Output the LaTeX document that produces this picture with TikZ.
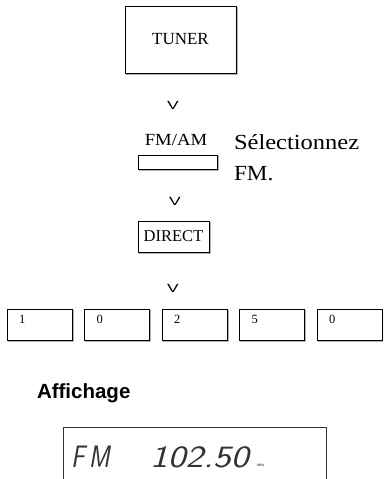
\documentclass[tikz,border=0pt]{standalone}
\usepackage{fontspec}
\setmainfont{Liberation Serif}
\newfontfamily\labelsans{Liberation Sans}
\usetikzlibrary{positioning}

\begin{document}
\begin{tikzpicture}[x=1pt, y=-1pt,
    every node/.style = {inner sep=0pt, outer sep=0pt},
    keybox/.style = {
        rectangle, draw=black, line width=0.8pt, fill=white,
        preaction={draw=gray!60, line width=1.2pt,
                   transform canvas={shift={(1.2pt,-1.2pt)}}}
    },
    keylabel/.style   = {font=\fontsize{17}{18}\selectfont},
    digitbox/.style   = {keybox, minimum width=65pt, minimum height=31pt},
    digitlabel/.style = {anchor=north west, font=\fontsize{12.5}{13}\selectfont},
    nextstep/.style   = {font=\labelsans\fontsize{14}{14}\selectfont},
    lcdtext/.style    = {anchor=base west, text=black!80,
                         font=\sffamily\itshape\fontsize{31}{31}\selectfont},
]
\clip (0,0) rectangle (383,479);

% --- Touches (colonne centrale) ---
\node[keybox, keylabel, minimum width=111pt, minimum height=67pt]
    (tuner) at (180.5,39.5) {TUNER};
\node[nextstep, anchor=base] (v1) at (173,109) {\scalebox{1.25}[0.85]{V}};
\node[keylabel, anchor=base] (fmamlbl) at (176,145) {\scalebox{1.1}[1]{FM/AM}};
\node[keybox, minimum width=79pt, minimum height=14pt]
    (fmam) at (177.5,162) {};
\node[anchor=base west, font=\fontsize{21.5}{31}\selectfont]
    (choose) at (234,149) {\scalebox{1.14}[1]{Sélectionnez}};
\node[anchor=base west, font=\fontsize{21.5}{31}\selectfont]
    (choosefm) at (234,180) {\scalebox{1.08}[1]{FM.}};
\node[nextstep, anchor=base] (v2) at (175,205) {\scalebox{1.25}[0.85]{V}};
\node[keybox, minimum width=71pt, minimum height=31pt,
      font=\fontsize{16.5}{18}\selectfont]
    (direct) at (173.5,236.5) {DIRECT};
\node[nextstep, anchor=base] (v3) at (173,292) {\scalebox{1.25}[0.85]{V}};

% --- Touches numeriques ---
\foreach \d [count=\i] in {1,0,2,5,0} {
    \node[digitbox] (k\i) at ({39.5+77.5*(\i-1)},324.5) {};
    \node[digitlabel] (d\i) at ([xshift=12pt,yshift=-6pt]k\i.north west) {\d};
}

% --- Affichage ---
\node[anchor=base west, font=\labelsans\bfseries\fontsize{20.5}{20}\selectfont]
    (display) at (37,398) {Affichage};
\node[draw=black!80, line width=0.8pt, minimum width=263pt, minimum height=80pt,
      anchor=north west]
    (lcd) at (63,427) {};
\node[lcdtext] (lcdfm) at (71,467) {\scalebox{0.82}[1]{F\,M}};
\node[lcdtext] (lcdfreq) at (150,467) {\scalebox{1.22}[1]{102.50}};
\node[anchor=base west, font=\sffamily\fontsize{3.5}{4}\selectfont]
    (lcdunit) at (257,466) {MHz};

\end{tikzpicture}
\end{document}
